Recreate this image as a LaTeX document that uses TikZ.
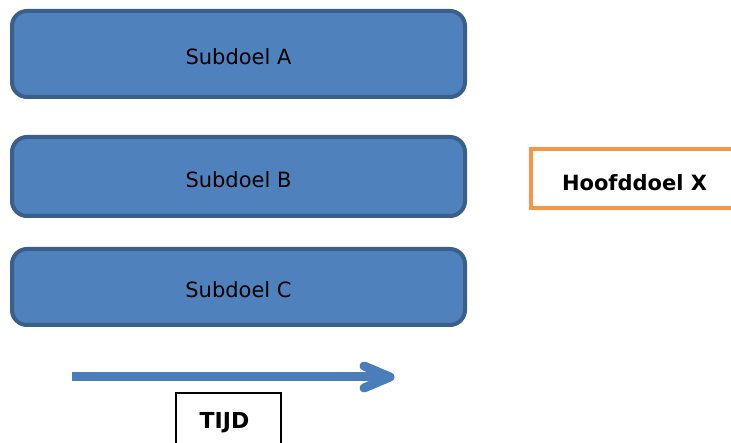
\documentclass[tikz,border=0pt]{standalone}
\usepackage{fontspec}
\setmainfont{DejaVu Sans}
\definecolor{sdfill}{HTML}{4F81BD}
\definecolor{sdborder}{HTML}{3A5F8B}
\definecolor{hoofd}{HTML}{F79646}
\definecolor{arrowc}{HTML}{4A7EBB}
\begin{document}
\begin{tikzpicture}[x=1pt,y=-1pt,
  subdoel/.style={draw=sdborder, fill=sdfill, line width=4pt, rounded corners=15pt,
    minimum width=453pt, inner sep=0pt, font=\fontsize{21}{25}\selectfont,
    text height=22pt, text depth=0pt},
  hoofdbox/.style={draw=hoofd, line width=4pt, minimum width=207pt, minimum height=59pt,
    inner sep=0pt, font=\bfseries\fontsize{21}{25}\selectfont, text height=24pt, text depth=0pt},
  tijdbox/.style={draw=black, line width=1.5pt, minimum width=105pt, minimum height=60pt,
    inner sep=0pt, font=\bfseries\fontsize{22}{26}\selectfont},
  timeline/.style={draw=arrowc, line width=9pt}
]
\useasboundingbox (0,0) rectangle (731,443);
\clip (0,0) rectangle (731,443);
\node[subdoel, minimum height=86pt] (a) at (238.5,54) {Subdoel A};
\node[subdoel, minimum height=79pt] (b) at (238.5,176.5) {Subdoel B};
\node[subdoel, minimum height=76pt] (c) at (238.5,287) {Subdoel C};
\node[hoofdbox] (x) at (634.5,178.5) {Hoofddoel X};
\node[tijdbox] (tijd) at (228.5,423) {\hspace*{-8pt}TIJD};
\coordinate (t0) at (72,377);
\coordinate (t1) at (390,377);
\coordinate (h1) at (364,366);
\coordinate (h2) at (364,388);
\draw[timeline, line cap=butt] (t0) -- (t1);
\draw[timeline, line cap=round, line join=round] (h1) -- (t1) -- (h2);
\end{tikzpicture}
\end{document}
